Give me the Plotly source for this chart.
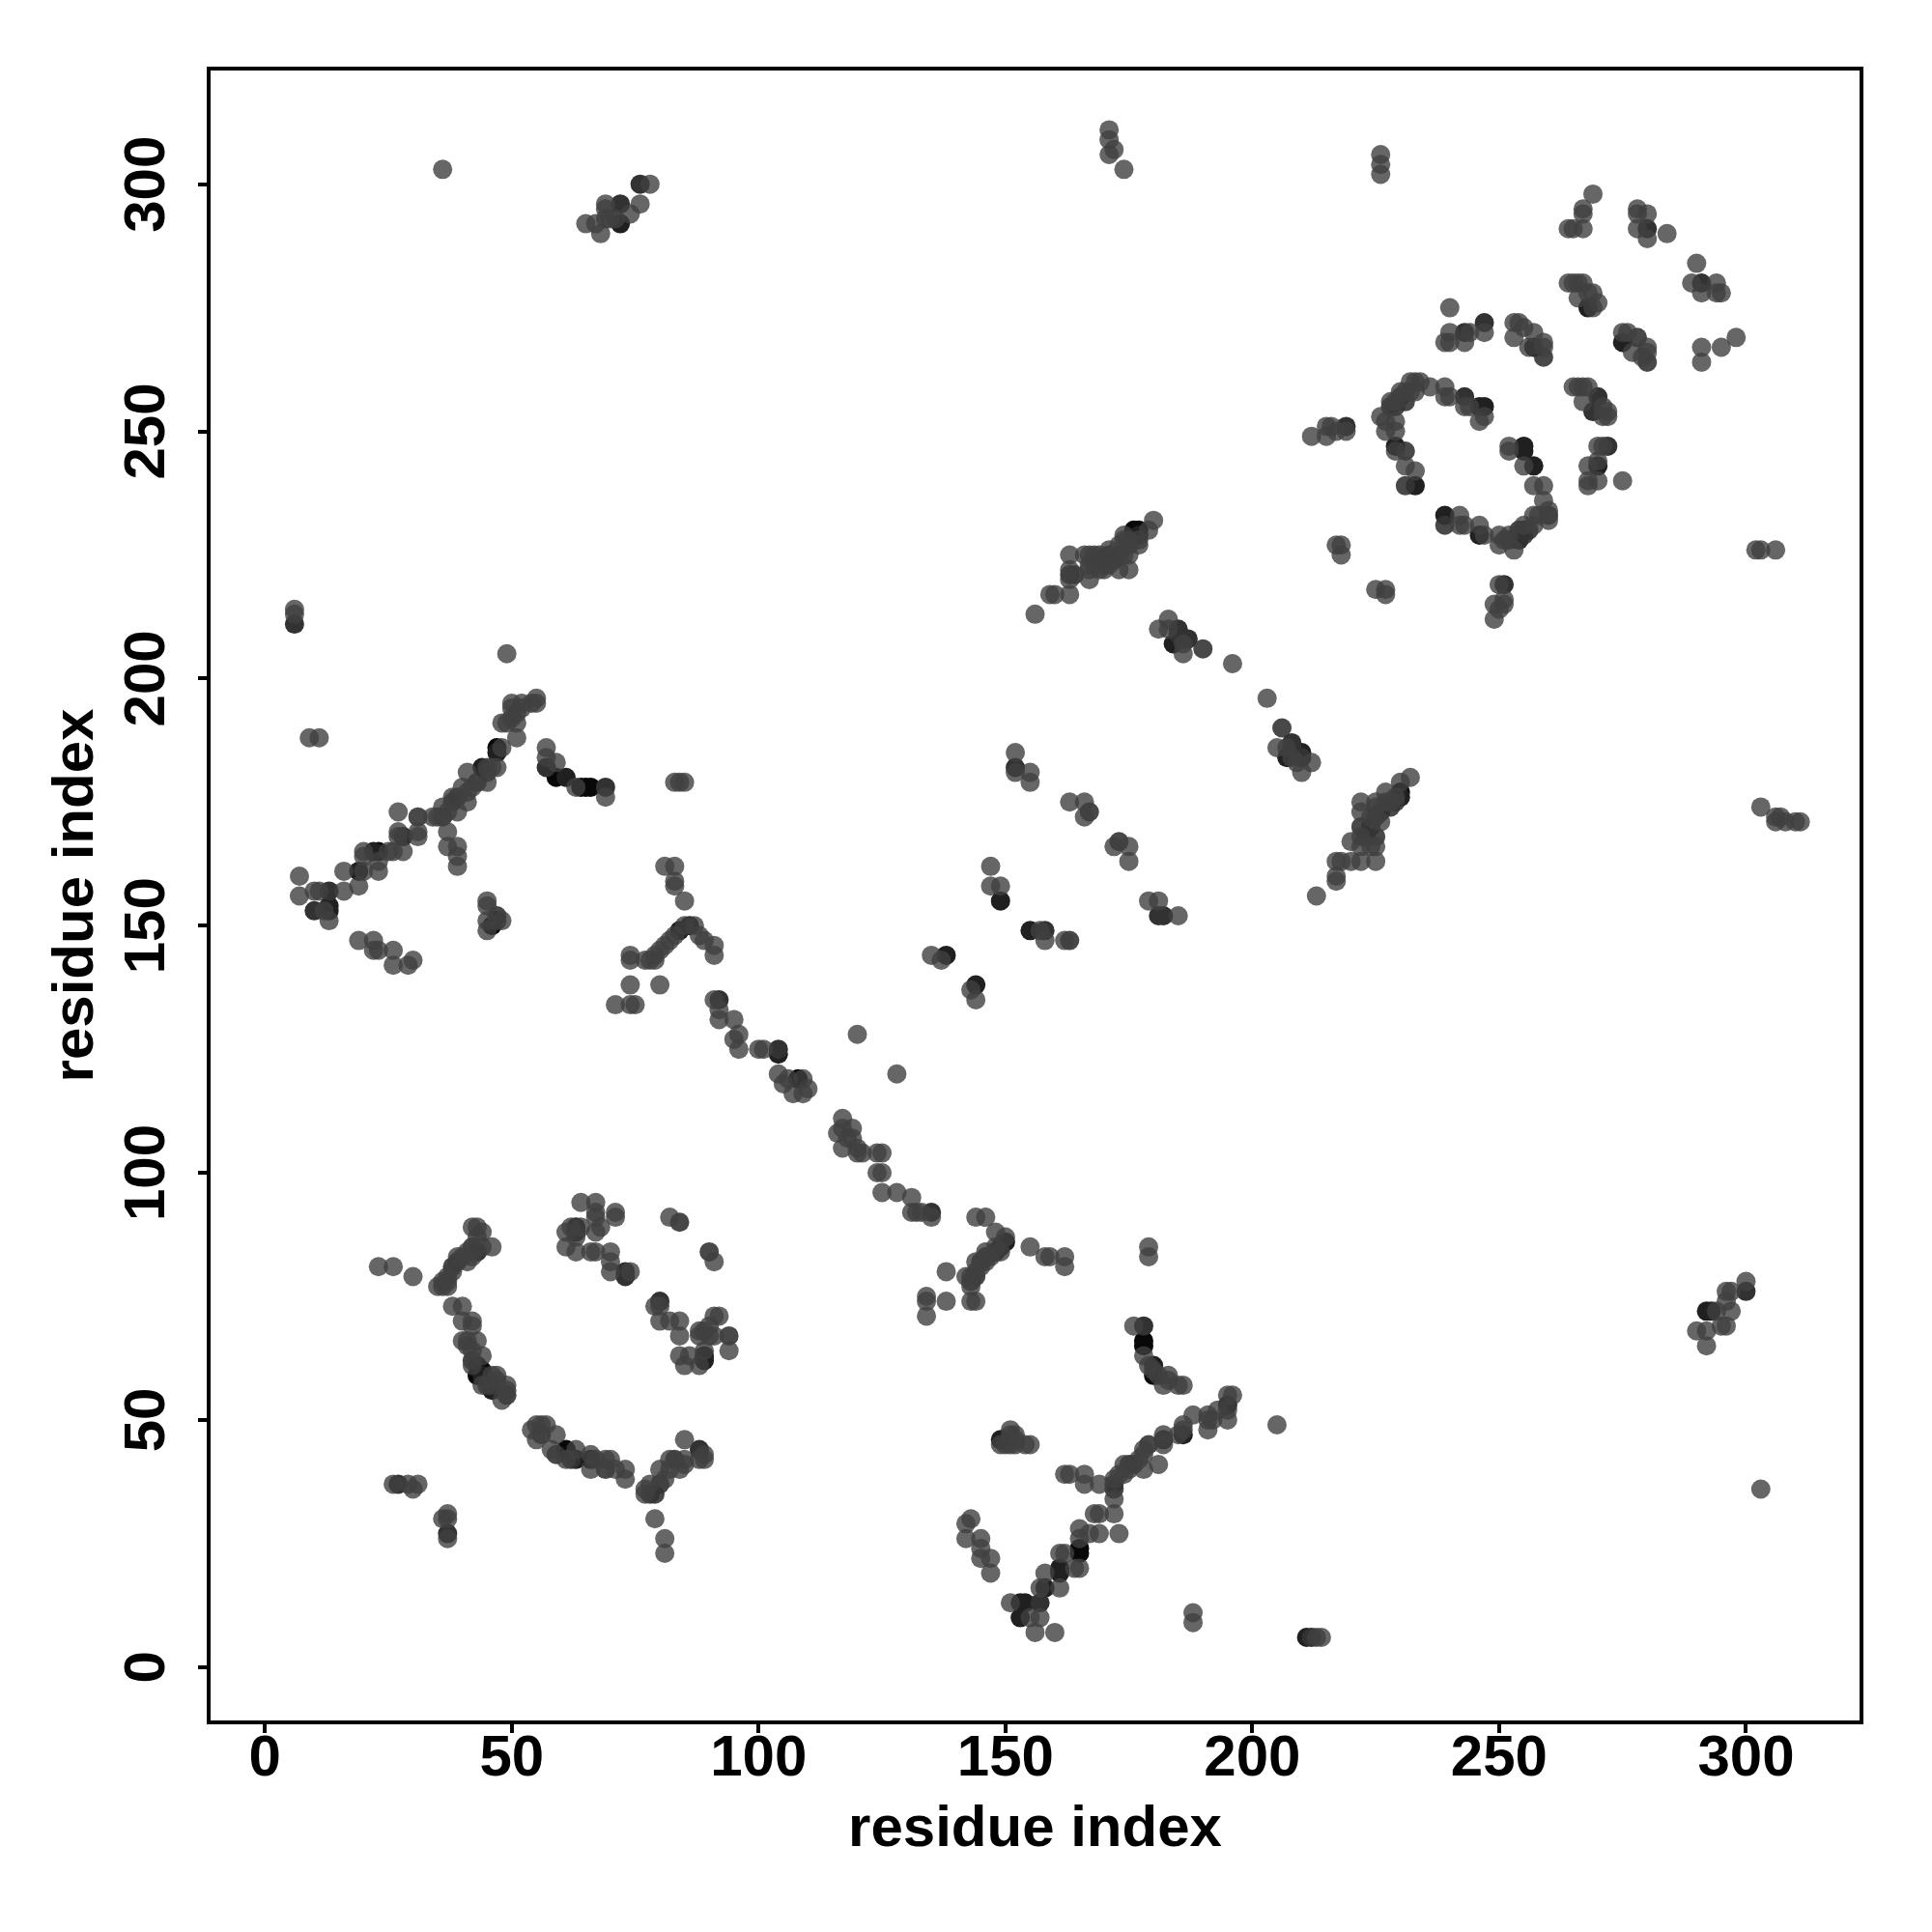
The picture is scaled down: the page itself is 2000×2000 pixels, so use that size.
import plotly.graph_objects as go

lower_left = [(42,89),(43,89),(44,88),(43,87),(42,85),(43,84),(44,85),(41,84),(40,83),(39,83),(38,81),(39,82),(37,79),(38,80),(36,78),(37,78),(35,77),(36,77),(37,77),(41,82),(42,83),(46,85),
(23,81),(26,81),(30,79),(38,73),(40,73),(40,70),(42,70),(42,69),(40,66),(41,66),(43,66),(41,65),(42,64),(44,63),(42,62),(42,61),(43,61),(44,60),(43,59),(44,59),(46,59),(47,59),(44,57),(46,56),(49,57),(49,56),(49,55),(48,54),(47,58),(45,57),(46,57),
(54,48),(55,49),(56,49),(57,49),(55,46),(56,47),(59,47),(58,44),(59,43),(61,44),(61,42),(63,44),(63,42),(62,42),(66,40),(66,43),(67,42),(66,42),(69,42),(70,42),(69,40),(71,40),(73,40),(73,38),
(77,35),(77,36),(78,35),(79,35),(78,37),(80,37),(80,40),(81,38),(82,40),(82,42),(84,40),(83,42),(85,42),(85,41),(85,46),(88,44),(88,42),(89,43),(89,42),(79,30),(81,26),(81,23),
(26,37),(27,37),(30,36),(29,37),(31,37),(37,31),(36,30),(37,30),(37,27),(37,26),
(64,94),(67,94),(71,92),(71,91),(67,92),(67,91),(68,89),(67,88),(61,88),(62,89),(63,89),(63,88),(63,87),(64,89),(61,85),(63,84),(66,84),(67,84),(70,84),(70,82),(70,80),(73,80),(74,80),(73,79),
(82,91),(84,90),(90,84),(91,82),(79,73),(80,74),(80,73),(80,70),(82,70),(84,70),(84,67),(84,63),(85,61),(86,63),(88,67),(88,68),(89,63),(89,62),(88,61),(89,64),(91,71),(92,71),(90,67),(91,67),(94,67),(94,64),(89,68),(90,69)]

lower_mid = [(135,92),(135,91),(133,92),(131,95),(144,91),(146,91),(148,88),(150,87),(150,86),(149,85),(148,85),(149,84),(148,84),(147,83),(146,84),(146,83),(145,82),(146,82),(144,82),(144,80),(145,81),(143,79),(144,79),(143,78),(143,77),(142,79),(143,74),(144,74),(138,80),(138,74),(134,75),(134,74),(134,71),
(155,85),(158,83),(159,83),(162,83),(162,81),(179,85),(179,83),(176,69),(178,69),(178,66),(178,65),(178,63),(179,61),(180,61),(180,60),(180,59),(181,59),(183,59),(182,57),(185,57),(186,57),(183,58),
(205,49),(196,55),(195,55),(195,53),(195,52),(195,50),(193,52),(191,51),(191,48),(191,50),(192,50),(188,51),(186,49),(186,48),(186,47),(185,47),(182,47),(182,46),(182,45),(181,41),(179,45),(178,44),(178,43),(178,40),(177,42),(176,41),(175,40),(175,41),(174,41),(174,39),(173,39),(172,38),(172,37),(172,36),(172,34),(172,31),(169,37),(166,37),(166,39),(162,39),(163,39),(168,31),(169,31),(165,28),(165,26),(167,27),(169,27),(173,27),
(165,24),(165,23),(165,20),(164,20),(161,23),(162,23),(161,20),(161,19),(161,16),(158,19),(158,16),(157,16),(157,13),(157,10),(156,7),(160,7),(154,13),(153,13),(151,13),(153,10),(155,10),
(143,30),(142,29),(142,26),(145,26),(145,24),(145,22),(147,22),(147,19),(188,11),(188,9),(211,6),(212,6),(213,6),(214,6),
(151,48),(151,47),(152,47),(149,46),(149,45),(150,45),(151,45),(152,45),(154,45),(155,45),(152,46),(151,46)]

mid_left = [(6,214),(6,213),(6,211),(49,205),(9,188),(11,188),(55,196),(55,195),(54,195),(52,195),(50,195),(50,194),(52,194),(51,193),(50,192),(48,191),(49,191),(51,191),(51,188),(48,186),(47,186),(47,185),
(47,182),(46,182),(45,182),(45,181),(45,179),(44,182),(43,179),(41,181),(42,178),(41,177),(40,178),(39,176),(41,175),(38,176),(38,175),(39,173),(37,173),(36,174),(36,172),(35,172),(34,172),(31,172),(27,173),(37,169),(37,166),(39,166),(39,164),(39,162),
(31,169),(31,168),(28,168),(27,169),(28,165),(27,168),(26,165),(25,165),(23,165),(22,165),(20,165),(20,164),(23,163),(23,161),(20,161),(19,161),(16,161),(19,158),(16,157),(13,157),(10,157),(11,157),(7,156),(7,160),(13,154),(13,153),(10,153),(12,153),(13,151),
(19,147),(22,147),(22,145),(23,145),(26,145),(26,142),(29,142),(30,143),(45,155),(45,154),(45,151),(45,149),(46,150),(47,152),(47,151),(48,151)]

central_band = [(57,186),(57,184),(57,182),(59,183),(59,180),(61,180),(63,178),(65,178),(66,178),(64,178),(69,178),(69,176),(83,179),(84,179),(85,179),(81,162),(83,162),(83,159),(83,158),(85,155),
(87,150),(86,150),(85,150),(84,149),(83,148),(82,147),(81,146),(80,145),(79,144),(79,143),(78,143),(77,143),(74,144),(74,143),(88,148),(91,146),(91,144),(89,147),(74,138),(80,138),(71,134),(74,134),(75,134),
(91,135),(92,135),(92,133),(92,131),(95,131),(96,128),(95,127),(96,125),(100,125),(101,125),(104,125),(104,124),(104,120),(106,119),(108,119),(109,119),(107,116),(109,116),(105,118),(110,117),
(120,128),(128,120),(117,111),(117,109),(116,108),(119,109),(118,107),(117,105),(120,105),(121,104),(124,104),(125,104),(124,100),(125,100),(125,96),(128,96),(131,95),(131,92),(132,92),(119,107),(120,104)]

upper_mid = [(180,232),(179,230),(177,230),(176,230),(177,229),(177,228),(177,227),(174,229),(174,228),(175,228),(175,227),(175,225),(173,227),(173,225),(171,226),(171,225),(172,224),(169,225),(169,224),(170,224),(170,222),(168,225),(167,225),(166,225),(167,223),(167,222),(167,220),(163,225),(163,222),(163,221),(163,220),(164,221),(163,217),(159,217),(160,217),(156,213),(173,222),(175,222),(169,222),(168,223),(171,223),(174,225),(170,223),
(217,227),(218,227),(218,225),(225,218),(227,218),(227,217),(183,212),(181,210),(183,210),(185,210),(185,209),(184,207),(186,208),(187,208),(186,207),(186,205),(190,206),(196,203),(203,196),
(206,190),(205,186),(208,187),(208,186),(207,186),(207,184),(208,184),(210,185),(210,184),(209,183),(212,183),(210,181),
(232,180),(230,179),(230,177),(230,176),(227,177),(229,176),(229,175),(228,175),(227,175),(228,174),(225,175),(225,174),(226,173),(225,172),(226,171),(224,172),(222,175),(222,173),(222,170),(224,170),(225,168),(225,166),(222,168),(220,167),(222,166),(222,163),(225,163),(220,163),(218,163),(217,163),(217,160),(217,159),(213,156),(223,168),(224,166),
(163,175),(166,175),(167,173),(166,172),(172,166),(173,167),(175,166),(175,163),(179,155),(181,155),(181,152),(182,152),(185,152),(155,149),(158,149),(158,147),(162,147),(163,147),(157,149),(152,185),(152,182),(152,181),(155,181),(155,179),
(147,162),(147,158),(149,158),(149,155),(135,144),(138,144),(137,143),(144,138),(143,137),(144,135)]

upper_right = [(226,306),(226,302),(226,304),(269,298),(267,295),(267,294),(264,291),(265,291),(267,291),(278,295),(278,294),(280,294),(278,291),(280,291),(280,289),(284,290),(290,284),(289,280),(291,280),(291,278),(294,280),(295,278),(294,278),
(264,280),(265,280),(266,280),(267,280),(266,277),(268,278),(269,278),(268,275),(269,275),(270,276),(240,275),(247,272),(247,270),(240,270),(240,268),(239,268),(243,270),(244,270),(243,268),
(253,272),(254,272),(255,271),(253,269),(257,270),(256,267),(257,267),(259,268),(259,267),(259,265),(275,270),(276,270),(275,268),(278,269),(277,266),(280,267),(280,266),(280,264),(279,265),(291,267),(291,264),(295,267),(298,269),
(265,259),(266,259),(267,259),(268,259),(267,256),(270,257),(269,254),(271,255),(272,254),(272,253),(271,253),(232,260),(233,260),(234,260),(236,259),(239,259),(239,257),(240,257),(243,257),(243,255),(246,255),(247,255),(247,253),(246,252),(244,255),
(233,258),(232,258),(231,258),(230,258),(230,257),(231,256),(229,256),(228,256),(229,255),(228,255),(229,252),(226,253),(227,252),(227,250),(229,250),(229,247),(231,246),(229,246),(231,243),(233,242),(231,239),(233,239),
(212,249),(215,251),(216,251),(215,249),(217,250),(219,251),(219,250),(252,247),(255,247),(255,246),(252,246),(255,243),(257,243),(257,239),(259,239),(259,236),(260,234),(260,233),(260,232),(258,233),(257,233),(257,231),(255,231),(255,229),(256,230),(255,230),(254,230),(254,228),(252,229),(252,228),(253,226),(250,229),(250,227),(251,228),(247,229),(246,229),(246,231),(243,231),(242,233),(242,231),(239,233),(239,231),
(270,247),(272,247),(271,247),(270,244),(268,243),(270,243),(268,240),(268,239),(270,240),(275,240),(302,226),(303,226),(306,226),(251,219),(250,219),(251,216),(251,215),(249,215),(250,214),(249,212)]

outliers = [(303,174),(306,171),(306,172),(308,171),(310,171),(311,171),(307,172),(303,36),(300,78),(300,76),(297,76),(296,74),(297,72),(292,72),(293,72),(296,69),(295,69),(290,68),(292,68),(292,65),(296,76),(294,72),
(36,303),(65,292),(67,292),(68,290),(69,293),(69,295),(69,296),(72,292),(72,296),(76,296),(76,300),(78,300),(71,293),(70,293),(74,294),(171,311),(171,309),(171,306),(172,307),(174,303)]

# contacts that read visibly darker than the usual grey dot
near_black = [(178,66),(178,65),(165,24),(165,23),(64,178),(65,178),(66,178),(23,165),(61,44),(180,59),(47,186),(59,180),(46,150),(108,119),(177,230),(176,230),(230,177),(44,60),(43,59)]
very_dark = [(63,89),(63,88),(89,62),(89,63),(44,59),(46,56),(43,61),(63,42),(66,42),(180,61),(161,20),(161,19),(154,13),(153,13),(153,10),(158,16),(186,47),(195,53),(149,46),(148,84),(149,85),(150,86),(211,6),
(22,165),(19,161),(13,154),(13,153),(47,185),(44,182),(61,180),(104,124),(84,149),(86,150),(177,229),(184,207),(210,185),(155,149),(207,184),(230,176),(268,275),(257,267),(275,268),(233,239),(246,255),(247,255),(239,233),(255,247),(255,246),(257,243),(270,243),(229,247),(255,230),(246,229),(292,72),(293,72),(72,292),(138,144),(144,138),(149,155)]
dark = [(43,84),(80,74),(73,80),(73,79),(27,37),(37,27),(88,44),(178,69),(157,13),(182,46),(135,92),(212,6),(6,211),(13,157),(10,153),(28,168),(69,178),(57,182),(104,125),(92,135),
(185,210),(185,209),(186,208),(187,208),(208,187),(208,186),(210,184),(226,173),(181,152),(182,152),(158,149),(152,182),(291,280),(280,291),(247,272),(243,270),(270,257),(269,254),(243,257),(272,247),(219,251),(251,219),(254,228),(300,76),(76,300),(72,296)]
medium = [(84,90),(90,84),(94,67),(30,37),(31,172),(47,151),(47,152),(190,206),(206,190),(163,147),(167,173),(173,167),(278,269),(231,239),(239,231),(231,246),(260,233),
(38,81),(39,82),(42,85),(42,62),(45,57),(49,55),(56,47),(59,43),(62,42),(69,40),(78,35),(79,35),(80,37),(83,42),(146,83),(145,82),(144,79),(143,78),(175,41),(176,41),(172,37),(172,36),(179,45),
(45,181),(43,179),(39,176),(38,175),(36,172),(225,172),(224,170),(225,168),(222,170),(223,168),(229,175),(228,174),(171,225),(170,224),(172,224),(169,224),(163,221),(164,221),(229,255),(228,255),(230,257),(231,256),(259,265),(280,264),(255,229),(254,230),(252,228),(256,230)]

tick_vals = [0, 50, 100, 150, 200, 250, 300]
shade_colors = {"near_black": "rgba(8,8,8,1)", "very_dark": "rgba(32,32,32,1)", "dark": "rgba(50,50,50,1)",
                "medium": "rgba(52,52,52,0.9)", "usual": "rgba(64,64,64,0.8)"}

all_contacts = list(dict.fromkeys(lower_left + lower_mid + mid_left + central_band + upper_mid + upper_right + outliers))
shade = {c: "usual" for c in all_contacts}
for name, group in (("medium", medium), ("dark", dark), ("very_dark", very_dark), ("near_black", near_black)):
    for c in group:
        if c in shade:
            shade[c] = name

# darker dots go first, so the usual grey ones sit over them as in the reference
rank = {"near_black": 0, "very_dark": 0, "dark": 1, "medium": 1, "usual": 2}
contacts = sorted(all_contacts, key=lambda c: rank[shade[c]])
x_vals = [c[0] for c in contacts]
y_vals = [c[1] for c in contacts]
colors = [shade_colors[shade[c]] for c in contacts]

fig = go.Figure(go.Scatter(x=x_vals, y=y_vals, mode="markers",
    marker=dict(size=20, color=colors, line=dict(width=0))))

font = dict(family="Liberation Sans", size=60, color="black", weight="bold")
axis = dict(tickvals=tick_vals, ticks="outside", ticklen=9, tickwidth=4,
            tickcolor="black", showline=True, linewidth=4, linecolor="black", mirror=True,
            showgrid=False, zeroline=False, tickfont=font)
fig.update_xaxes(**axis, range=[-11.0, 323.0], ticklabelstandoff=-28,
                 title=dict(text="residue index", font=font, standoff=20))
fig.update_yaxes(**axis, range=[-10.8, 323.0], tickangle=-90, ticklabelstandoff=11, ticklabelshift=9,
                 title=dict(text="residue index", font=font, standoff=1))
fig.update_layout(width=2000, height=2000, autosize=False, showlegend=False,
    paper_bgcolor="white", plot_bgcolor="white",
    margin=dict(l=210, r=83, t=65, b=227, autoexpand=False))
fig.write_html("out.html")
